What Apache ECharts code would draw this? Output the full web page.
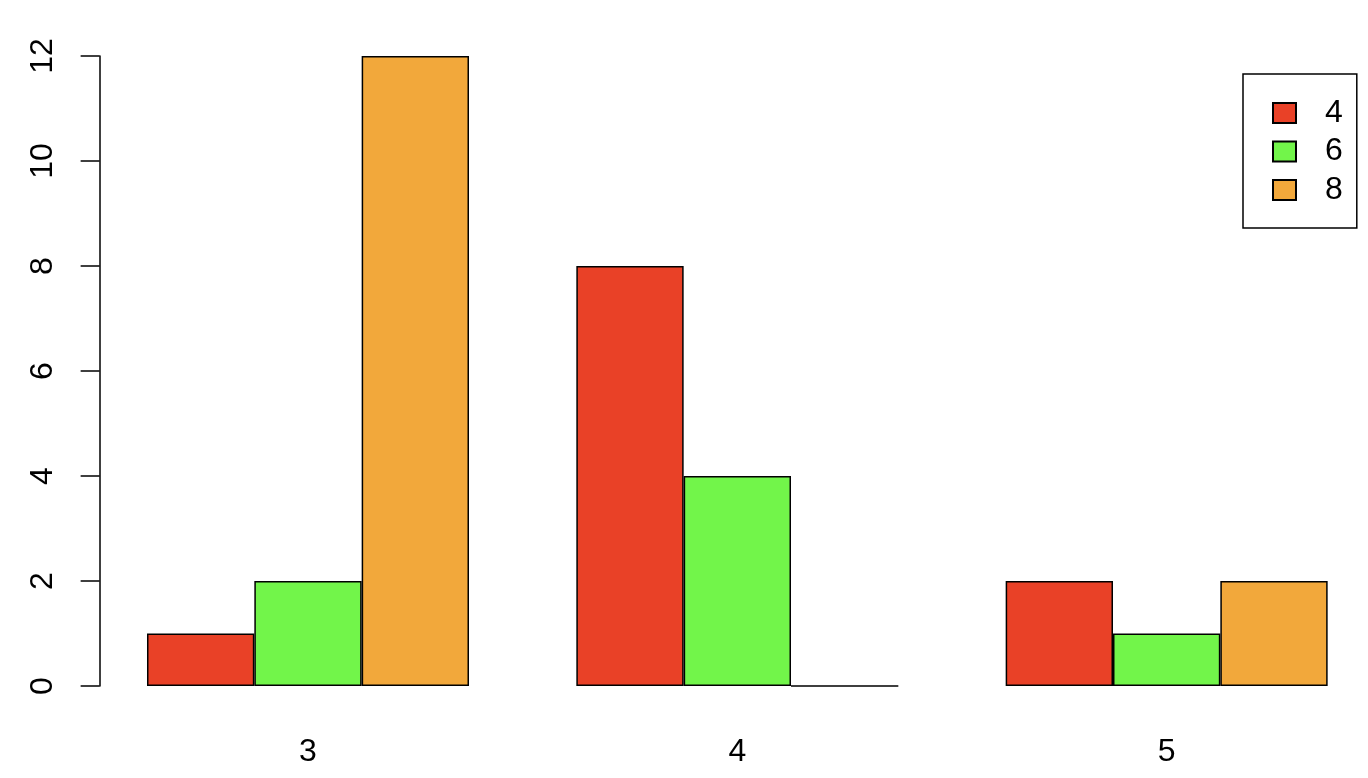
<!DOCTYPE html>
<html>
<head>
<meta charset="utf-8">
<script src="https://cdn.jsdelivr.net/npm/echarts@6/dist/echarts.min.js"></script>
<style>
html,body{margin:0;padding:0;background:#fff;overflow:hidden;width:1368px;height:778px;}
#chart{width:1400px;height:778px;}
</style>
</head>
<body>
<div id="chart"></div>
<script>
const gears = ['3', '4', '5'];
const cyl4 = [1, 8, 2];
const cyl6 = [2, 4, 1];
const cyl8 = [12, 0, 2];
const seriesNames = ['4', '6', '8'];
const colors = ['#E94127', '#72F54A', '#F2A83B'];
const yTicks = [0, 2, 4, 6, 8, 10, 12];

const FONT = '"Liberation Sans", Arial, Helvetica, sans-serif';
const chart = echarts.init(document.getElementById('chart'), null, {renderer: 'canvas'});
const values = [cyl4, cyl6, cyl8];

chart.setOption({
  animation: false,
  backgroundColor: '#ffffff',
  grid: {left: 93.33, width: 1288, top: 56, bottom: 92, containLabel: false},
  legend: {
    orient: 'vertical',
    left: 1243,
    top: 74,
    data: seriesNames,
    icon: 'rect',
    itemWidth: 23,
    itemHeight: 20,
    itemGap: 6.5,
    padding: [23, 14, 22, 29],
    borderColor: '#000',
    borderWidth: 1.5,
    selectedMode: false,
    textStyle: {fontFamily: FONT, fontSize: 32, color: '#000', padding: [0, 0, 0, 24]}
  },
  xAxis: {
    type: 'category',
    data: gears,
    axisLine: {show: false},
    axisTick: {show: false},
    axisLabel: {fontFamily: FONT, fontSize: 32, color: '#000', margin: 50}
  },
  yAxis: {
    type: 'value',
    min: 0,
    max: 12,
    interval: 2,
    offset: -6.3,
    splitLine: {show: false},
    axisLine: {show: true, lineStyle: {color: '#000', width: 1.5}},
    axisTick: {show: true, length: 19, lineStyle: {color: '#000', width: 1.5}},
    axisLabel: {fontFamily: FONT, fontSize: 32, color: '#000', rotate: 90, margin: 40,
      formatter: function (v) { return yTicks.indexOf(v) >= 0 ? String(v) : ''; }}
  },
  series: seriesNames.map(function (n, i) {
    return {
      name: n,
      type: 'bar',
      data: values[i],
      barGap: '0%',
      barCategoryGap: '25%',
      itemStyle: {color: colors[i], borderColor: '#000', borderWidth: 1.5}
    };
  })
});
</script>
</body>
</html>
